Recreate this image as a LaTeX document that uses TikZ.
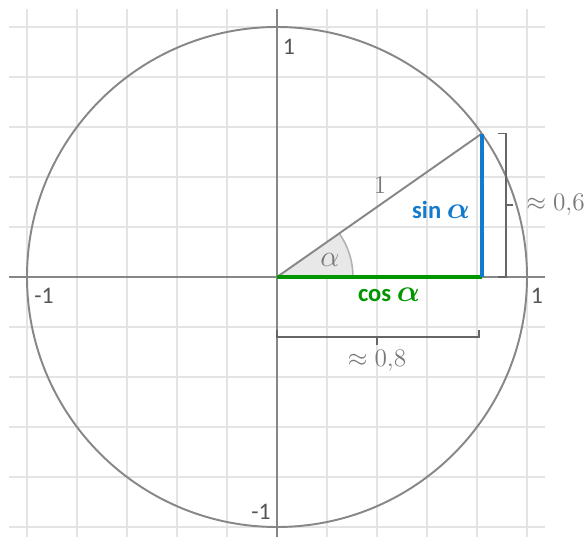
\documentclass[tikz,border=0pt]{standalone}
\usepackage{amsmath}
\usepackage{fontspec}
\setmainfont{Carlito}
\usetikzlibrary{positioning}

\definecolor{sinblue}{RGB}{20,122,204}
\definecolor{cosgreen}{RGB}{0,150,0}
\definecolor{axisgray}{RGB}{135,135,135}
\definecolor{gridgray}{RGB}{228,228,228}
\definecolor{labelgray}{RGB}{85,85,85}
\definecolor{textgray}{RGB}{120,120,120}

\tikzset{
    axislabel/.style={text=labelgray, inner sep=0pt, font=\fontsize{13.5}{16}\selectfont},
    measure/.style={text=textgray, inner sep=0pt, font=\fontsize{14.5}{17}\selectfont},
    trig/.style={inner sep=0pt, font=\fontsize{14}{16}\selectfont\bfseries},
    bracket/.style={black!60, line width=1pt}
}

\begin{document}
\begin{tikzpicture}[scale=1]
    \useasboundingbox (-5.54,-5.2) rectangle (6.2,5.54);
    % Grid
    \foreach \k in {-5,...,5} {
        \draw[gridgray, line width=1pt] (\k,-5.2) -- (\k,5.36);
        \draw[gridgray, line width=1pt] (-5.36,\k) -- (5.36,\k);
    }
    % Axes
    \coordinate (O) at (0,0);
    \coordinate (xl) at (-5.36,0);
    \coordinate (xr) at (5.36,0);
    \coordinate (yb) at (0,-5.2);
    \coordinate (yt) at (0,5.36);
    \draw[axisgray, line width=1.2pt] (xl) -- (xr);
    \draw[axisgray, line width=1.2pt] (yb) -- (yt);
    \node[axislabel] (xpos) at (5.2,-0.38) {1};
    \node[axislabel] (xneg) at (-4.66,-0.38) {-1};
    \node[axislabel] (ypos) at (0.24,4.6) {1};
    \node[axislabel] (yneg) at (-0.32,-4.7) {-1};
    % Unit circle
    \draw[axisgray, line width=1.1pt] (O) circle (5);
    \coordinate (P) at (35:5);
    \coordinate (Q) at (P |- O);
    % Angle
    \coordinate (A0) at (1.52,0);
    \fill[black!9] (O) -- (A0) arc (0:35:1.52) -- cycle;
    \draw[black!30, line width=0.9pt] (A0) arc (0:35:1.52);
    \node[measure, font=\fontsize{17}{17}\selectfont] (alpha) at (1.06,0.34) {$\alpha$};
    % Triangle
    \draw[axisgray, line width=1.1pt] (O) -- (P);
    \draw[cosgreen, line width=2.4pt] (O) -- (Q);
    \draw[sinblue, line width=2.4pt] (Q) -- (P);
    \node[measure] (hyp) at (2.06,1.84) {$1$};
    \node[trig, text=sinblue] (sinlbl) at (3.28,1.34) {sin {\fontsize{17}{17}\selectfont$\boldsymbol{\alpha}$}};
    \node[trig, text=cosgreen] (coslbl) at (2.24,-0.36) {cos {\fontsize{17}{17}\selectfont$\boldsymbol{\alpha}$}};
    % Bracket for sin
    \coordinate (s1) at (4.42,2.868);
    \coordinate (s2) at (4.58,2.868);
    \coordinate (s3) at (4.58,0);
    \coordinate (s4) at (4.42,0);
    \coordinate (sm) at (4.58,1.434);
    \coordinate (sn) at (4.72,1.434);
    \draw[bracket] (s1) -- (s2) -- (s3) -- (s4);
    \draw[bracket] (sm) -- (sn);
    \node[measure, anchor=west] (approxsin) at (4.98,1.434) {$\approx 0{,}6$};
    % Bracket for cos
    \coordinate (c1) at (0,-1.06);
    \coordinate (c2) at (0,-1.2);
    \coordinate (c3) at (4.04,-1.2);
    \coordinate (c4) at (4.04,-1.06);
    \coordinate (cm) at (2,-1.2);
    \coordinate (cn) at (2,-1.36);
    \draw[bracket] (c1) -- (c2) -- (c3) -- (c4);
    \draw[bracket] (cm) -- (cn);
    \node[measure] (approxcos) at (2,-1.68) {$\approx 0{,}8$};
\end{tikzpicture}
\end{document}
